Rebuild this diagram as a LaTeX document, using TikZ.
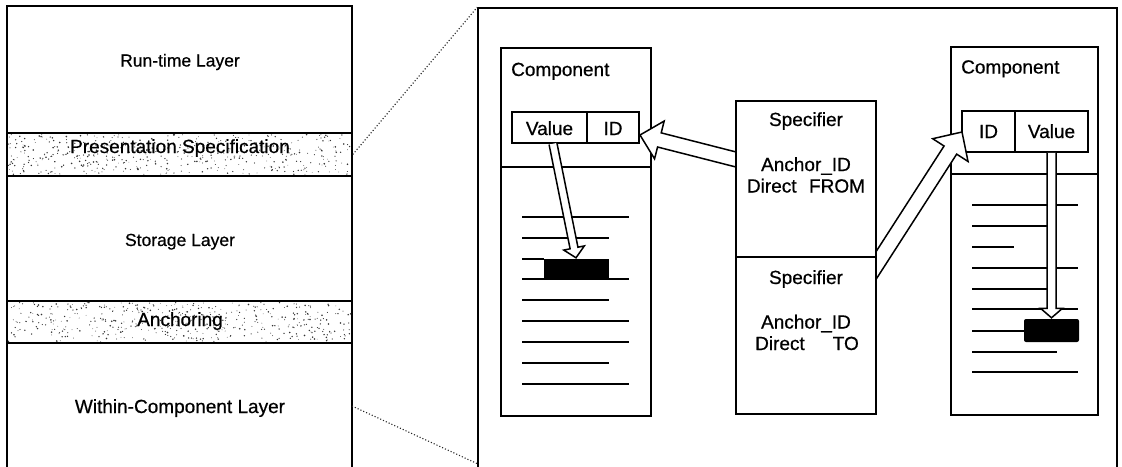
\documentclass[tikz,border=0pt]{standalone}
\usepackage{fontspec}
\setmainfont{Liberation Sans}[UprightFeatures={FakeBold=0.6}]
\usetikzlibrary{calc}

% hollow arrow: from, to, half shaft width, half head width, head length
\newcommand\hollowarrow[5]{%
  \coordinate (ha-base) at ($(#2)!#5!(#1)$);
  \draw[frame, fill=white]
    ($(#1)!#3!90:(#2)$) -- ($(ha-base)!#3!90:(#2)$) -- ($(ha-base)!#4!90:(#2)$)
    -- (#2) -- ($(ha-base)!#4!-90:(#2)$) -- ($(ha-base)!#3!-90:(#2)$)
    -- ($(#1)!#3!-90:(#2)$);
}

\tikzset{
  frame/.style={line width=1.5pt, line join=miter},
  box/.style={draw, frame, rectangle, inner sep=0pt},
  bigtxt/.style={font=\fontsize{19}{21}\selectfont},
  midtxt/.style={font=\fontsize{17.5}{19}\selectfont},
  lbl/.style={inner sep=0pt, anchor=base},
  txtline/.style={line width=1.5pt},
  speck/.style={fill=black!80},
  zoomline/.style={line width=1.1pt, dotted, black!85},
}

\begin{document}
\begin{tikzpicture}[x=1pt, y=-1pt]
\useasboundingbox (0,0) rectangle (1122,466);
\clip (0,0) rectangle (1122,466);

% ---------- layer stack ----------
\node[box, minimum width=345pt, minimum height=480pt] (lp) at (179.5,246) {};
\node[box, minimum width=345pt, minimum height=43pt] (band1) at (179.5,154.5) {};
\node[box, minimum width=345pt, minimum height=42pt] (band2) at (179.5,322) {};

% grainy texture of the two thin layers
\pgfmathsetseed{11}
\foreach \k in {1,...,480} {
  \fill[speck] ({8+343*rnd},{134.5+40*rnd}) circle ({0.35+0.55*rnd});
}
\foreach \k in {1,...,480} {
  \fill[speck] ({8+343*rnd},{302.5+39*rnd}) circle ({0.35+0.55*rnd});
}

\node[lbl, midtxt] (tRun)  at (180,66.5) {Run-time Layer};
\node[lbl, bigtxt] (tPres) at (180,153)  {Presentation Specification};
\node[lbl, midtxt] (tStor) at (180,246)  {Storage Layer};
\node[lbl, bigtxt] (tAnch) at (180,326)  {Anchoring};
\node[lbl, bigtxt] (tWith) at (180,413)  {Within-Component Layer};

% ---------- enlarged view ----------
\node[box, minimum width=639pt, minimum height=480pt] (rp) at (797.5,248) {};

\coordinate (z1) at (352,406);
\coordinate (z2) at (478,464);
\draw[zoomline] (band1.east) -- (rp.north west);
\draw[zoomline] (z1) -- (z2);

% left component
\node[box, minimum width=150pt, minimum height=368pt] (compL) at (576,232) {};
\draw[frame] (501,167) -- (651,167);
\node[lbl, bigtxt, anchor=base west] (cL) at (511,76) {Component};
\node[box, minimum width=75pt, minimum height=31pt] (valL) at (549.5,127.5) {};
\node[box, minimum width=52pt, minimum height=31pt] (idL) at (613,127.5) {};
\node[lbl, bigtxt] (tvalL) at (549.5,135) {Value};
\node[lbl, bigtxt] (tidL) at (613,135) {ID};

\foreach \y/\e in {217/629, 238/609, 279/629, 300/609, 321/629, 342/629, 363/609, 384/629}
  \draw[txtline] (522,\y) -- (\e,\y);
\draw[txtline] (522,259) -- (544,259);
\node[fill=black, inner sep=0pt, minimum width=65pt, minimum height=20pt] (blkL) at (576.5,269) {};

% right component
\node[box, minimum width=147pt, minimum height=368pt] (compR) at (1024.5,231) {};
\draw[frame] (951,174) -- (1098,174);
\node[lbl, bigtxt, anchor=base west] (cR) at (961,73.5) {Component};
\node[box, minimum width=53pt, minimum height=41pt] (idR) at (988.5,131.5) {};
\node[box, minimum width=73pt, minimum height=41pt] (valR) at (1051.5,131.5) {};
\node[lbl, bigtxt] (tidR) at (988.5,138) {ID};
\node[lbl, bigtxt] (tvalR) at (1051.5,138) {Value};

\foreach \y/\e in {205/1078, 226/1057, 247/1014, 268/1078, 289/1057, 309/1078, 352/1057, 372/1078}
  \draw[txtline] (972,\y) -- (\e,\y);
\draw[txtline] (972,331) -- (1024,331);
\node[fill=black, inner sep=0pt, rounded corners=2pt, minimum width=55pt, minimum height=23pt] (blkR) at (1051.5,330.5) {};

% arrows (drawn before the specifier boxes, which cover their tails)
\coordinate (aL-edge) at (736,159.5);
\coordinate (aL-tip) at (640,135);
\coordinate (aL-tail) at ($(aL-tip)!1.2!(aL-edge)$);
\hollowarrow{aL-tail}{aL-tip}{7.3pt}{19.5pt}{20pt}

\coordinate (aR-edge) at (877,264);
\coordinate (aR-tip) at (962,132);
\coordinate (aR-tail) at ($(aR-tip)!1.15!(aR-edge)$);
\hollowarrow{aR-tail}{aR-tip}{7.5pt}{21pt}{21.5pt}

\coordinate (vL-start) at ($(valL.south)+(3.5,0)$);
\coordinate (vL-tip) at ($(blkL.north)+(-0.5,-1)$);
\hollowarrow{vL-start}{vL-tip}{4pt}{10.5pt}{10pt}

\coordinate (vR-start) at (valR.south);
\coordinate (vR-tip) at ($(blkR.north)+(0,-1)$);
\hollowarrow{vR-start}{vR-tip}{4.5pt}{11pt}{9.5pt}

% specifiers
\node[box, fill=white, minimum width=140pt, minimum height=156pt] (spec1) at (806,179) {};
\node[box, fill=white, minimum width=140pt, minimum height=157pt] (spec2) at (806,335.5) {};
\node[lbl, bigtxt] (s1a) at (806,126)   {Specifier};
\node[lbl, bigtxt] (s1b) at (806,171)   {Anchor\_ID};
\node[lbl, bigtxt] (s1c) at (806,192.5) {Direct\hspace{12.5pt}FROM};
\node[lbl, bigtxt] (s2a) at (806,284)   {Specifier};
\node[lbl, bigtxt] (s2b) at (806,328.5) {Anchor\_ID};
\node[lbl, bigtxt] (s2c) at (807,350)   {Direct\hspace{28pt}TO};
\end{tikzpicture}
\end{document}
